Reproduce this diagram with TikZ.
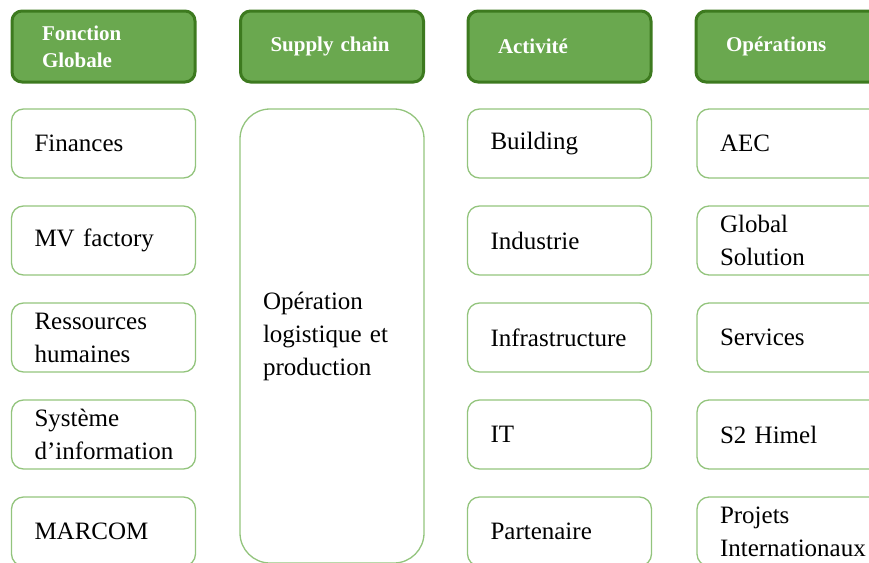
\documentclass[tikz,border=0pt]{standalone}
\usepackage{fontspec}
\setmainfont{Liberation Serif}
\definecolor{headfill}{HTML}{6AA84F}
\definecolor{headline}{HTML}{3D7A1F}
\definecolor{boxline}{HTML}{93C47D}
\begin{document}
\begin{tikzpicture}[x=1pt, y=-1pt,
  head/.style={draw=headline, line width=3pt, fill=headfill, rounded corners=10pt, inner xsep=30pt, text width=123pt, minimum height=71pt, align=left, text=white, font=\fontsize{21}{27}\selectfont\bfseries},
  item/.style={draw=boxline, line width=1.3pt, rounded corners=12pt, inner xsep=23pt, text width=138pt, minimum height=69pt, align=left, font=\fontsize{25}{33}\selectfont}]
	\useasboundingbox (0,0) rectangle (869,562);
	\clip (0,0) rectangle (869,562);

	\foreach \x/\txt [count=\i] in {103.5/{Fonction\\Globale}, 332/{Supply chain}, 559.5/{Activité}, 787.5/{Opérations}} {
		\node[head] (h\i) at (\x,46.5) {\txt};
	}

	\foreach \txt [count=\i] in {Finances, MV factory, {Ressources\\humaines}, {Système\\d’information}, MARCOM} {
		\node[item] (f\i) at (103.5,{46.5+97*\i}) {\txt};
	}

	\node[item, minimum height=454pt, rounded corners=30pt] (sc) at (332,336) {Opération\\logistique et\\production};

	\foreach \txt [count=\i] in {Building, Industrie, Infrastructure, IT, Partenaire} {
		\node[item] (a\i) at (559.5,{46.5+97*\i}) {\txt};
	}

	\foreach \txt [count=\i] in {AEC, {Global\\Solution}, Services, S2 Himel, {Projets\\Internationaux}} {
		\node[item] (o\i) at (789,{46.5+97*\i}) {\txt};
	}
\end{tikzpicture}
\end{document}
